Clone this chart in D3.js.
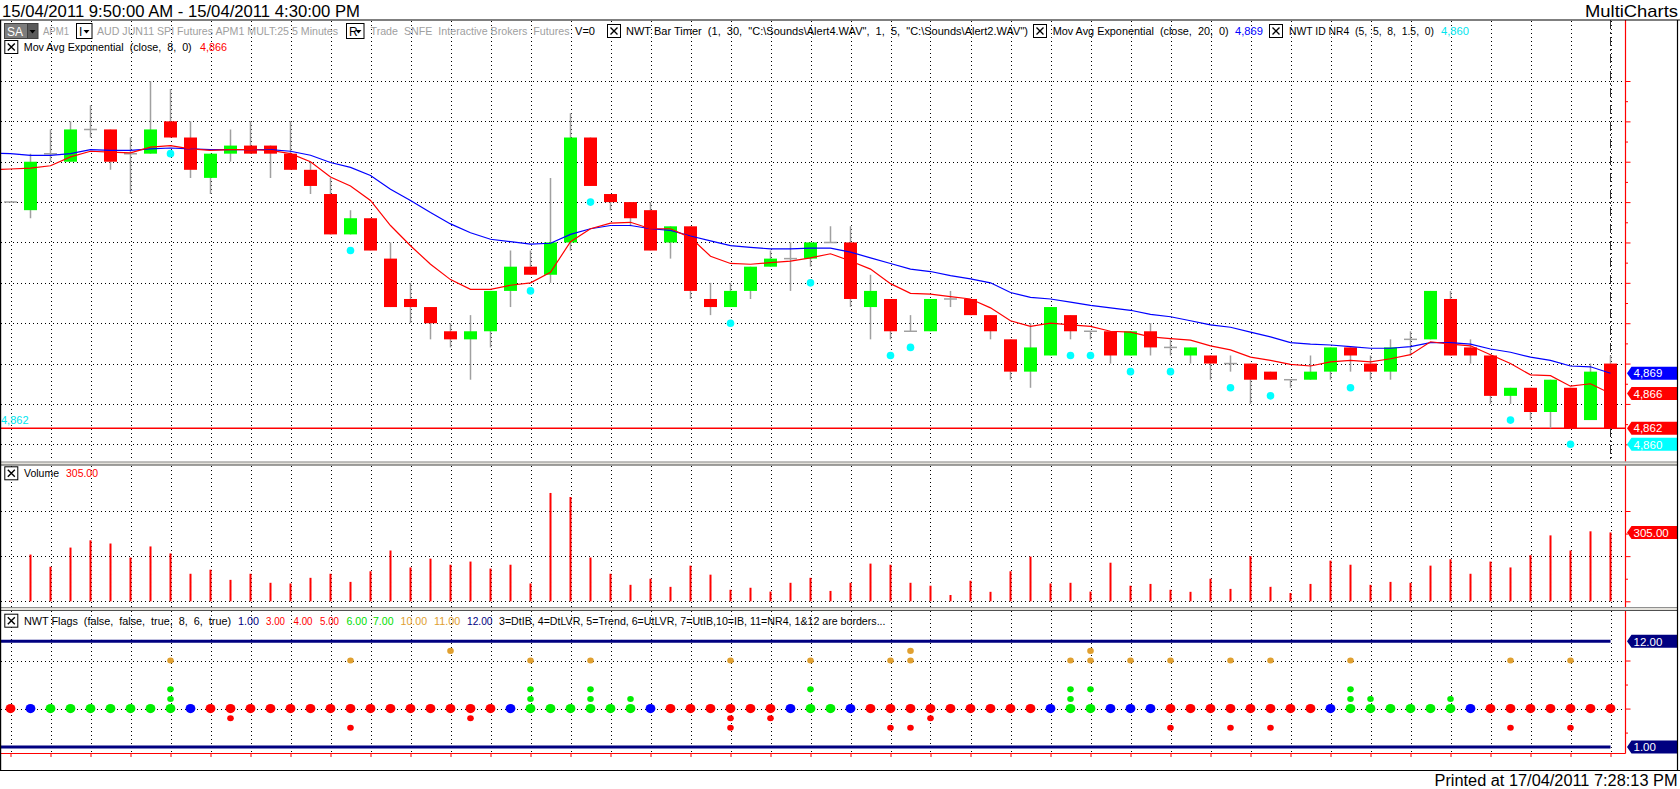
<!DOCTYPE html>
<html>
<head>
<meta charset="utf-8">
<script src="https://cdn.jsdelivr.net/npm/d3@7"></script>
<style>
  body { margin: 0; background: #fff; }
  svg text { font-family: "Liberation Sans", Arial, sans-serif; white-space: pre; }
</style>
</head>
<body>
<div id="chart"></div>
<script>
/* 5 minute bars, AUD JUN11 SPI, 15/04/2011 */
var opens  = [4890,4889,4896,4895,4899,4899,4896,4896,4900,4898,4893,4896,4897,4897,4896,4894,4891,4886,4888,4883,
              4878,4877,4874,4873,4874,4879,4882,4881,4885,4898,4891,4890,4889,4885,4887,4878,4877,4879,4882,4883,
              4883,4885,4885,4877,4878,4874,4874,4878,4878,4876,4873,4869,4871,4876,4874,4874,4871,4874,4872,4871,
              4871,4870,4870,4869,4868,4868,4869,4872,4870,4869,4873,4873,4878,4872,4871,4866,4867,4864,4867,4863,4870];
var highs  = [4890,4896,4899,4900,4902,4899,4898,4905,4904,4900,4896,4899,4900,4897,4900,4895,4893,4889,4888,4885,
              4880,4877,4875,4876,4879,4884,4884,4893,4901,4898,4891,4890,4890,4887,4887,4880,4880,4882,4884,4885,
              4885,4887,4887,4881,4878,4876,4878,4879,4878,4876,4873,4875,4877,4876,4874,4874,4874,4875,4873,4872,
              4871,4871,4870,4869,4868,4871,4872,4872,4871,4873,4874,4879,4879,4873,4871,4867,4867,4868,4867,4870,4871];
var lows   = [4890,4888,4895,4895,4898,4894,4891,4896,4898,4893,4891,4895,4896,4893,4894,4891,4886,4886,4884,4877,
              4875,4873,4872,4868,4872,4877,4881,4880,4884,4892,4889,4887,4884,4883,4878,4876,4877,4878,4882,4879,
              4882,4885,4877,4873,4873,4874,4874,4877,4876,4873,4868,4867,4871,4873,4873,4870,4871,4871,4871,4870,
              4868,4869,4865,4868,4867,4868,4868,4869,4868,4868,4871,4873,4871,4870,4865,4865,4863,4862,4862,4863,4862];
var closes = [4890,4895,4896,4899,4899,4895,4896,4899,4898,4894,4896,4897,4896,4896,4894,4892,4886,4888,4884,4877,
              4877,4875,4873,4874,4879,4882,4881,4885,4898,4892,4890,4888,4884,4887,4879,4877,4879,4882,4883,4883,
              4885,4885,4878,4879,4874,4874,4878,4878,4876,4874,4869,4872,4877,4874,4874,4871,4874,4872,4872,4872,
              4870,4870,4868,4868,4868,4869,4872,4871,4869,4872,4873,4879,4871,4871,4866,4867,4864,4868,4862,4869,4862];
var volumes = [3,207,153,238,270,256,194,243,212,122,140,95,122,82,79,104,122,86,133,225,
               150,189,162,176,145,162,79,480,462,194,122,73,100,64,158,118,51,60,43,82,
               104,46,82,167,162,82,69,28,91,42,133,198,79,82,43,171,69,77,51,42,
               100,55,200,64,37,77,180,162,73,86,82,158,186,122,176,150,204,292,225,310,305];

/* Mov Avg Exponential (close, 8) and (close, 20) */
var ema8Prev = 4894.0, ema20Prev = 4896.1;
var ema8  = [4894.1,4894.2,4894.5,4895.6,4896.3,4896.2,4896.1,4896.8,4897.0,4896.6,4896.4,4896.5,4896.5,4896.4,4896.0,4895.0,4893.1,4892.0,4890.2,4887.1,
             4884.6,4882.3,4880.4,4879.2,4879.2,4879.7,4880.0,4881.3,4885.1,4886.7,4887.4,4887.5,4886.7,4886.7,4885.6,4883.3,4882.4,4882.3,4882.5,4882.7,
             4883.1,4883.6,4882.7,4881.7,4879.9,4878.7,4878.6,4878.3,4878.0,4876.9,4875.3,4874.6,4875.0,4874.8,4874.6,4874.0,4873.9,4873.3,4873.1,4872.9,
             4872.2,4871.7,4870.8,4870.4,4869.9,4869.7,4870.2,4870.4,4870.2,4870.6,4871.1,4872.7,4872.4,4872.2,4871.1,4870.0,4868.6,4868.5,4867.2,4867.5,4866.3];
var ema20 = [4896.0,4895.8,4895.8,4896.0,4896.5,4896.4,4896.4,4896.6,4896.7,4896.6,4896.5,4896.5,4896.5,4896.5,4896.3,4895.8,4894.9,4894.3,4893.3,4891.6,
             4890.2,4888.7,4887.3,4886.2,4885.4,4885.1,4884.8,4884.9,4886.0,4886.7,4887.1,4887.1,4886.7,4886.5,4885.8,4885.2,4884.6,4884.4,4884.2,4884.2,
             4884.3,4884.3,4883.8,4883.1,4882.4,4881.7,4881.4,4880.9,4880.5,4880.0,4878.8,4878.2,4878.0,4877.6,4877.2,4876.9,4876.6,4876.1,4875.8,4875.3,
             4874.8,4874.5,4873.9,4873.3,4872.6,4872.4,4872.3,4872.1,4871.9,4871.9,4872.1,4872.6,4872.6,4872.4,4871.8,4871.4,4870.8,4870.4,4869.7,4869.6,4868.8];

/* NWT ID NR4 dots */
var nr4Bars = [8,17,26,29,36,40,44,45,53,54,56,58,61,63,67,75,78];
var nr4Vals = [4896,4884,4879,4890,4875,4880,4871,4872,4871,4871,4869,4869,4867,4866,4867,4863,4860];

/* NWT Flags: trend row (1 up, -1 down, 0 neutral) and the other flag rows */
var trend = [-1,0,1,1,1,1,1,1,1,0,-1,-1,-1,-1,-1,-1,-1,-1,-1,-1,
             -1,-1,-1,-1,-1,0,1,1,1,1,1,1,0,-1,-1,-1,-1,-1,-1,0,
             1,1,0,-1,-1,-1,-1,-1,-1,-1,-1,-1,0,1,1,0,0,0,-1,-1,
             -1,-1,-1,-1,-1,-1,0,1,1,1,1,1,1,0,-1,-1,-1,-1,-1,-1,-1];
var flagDtIB  = [17,36,44,45,58,61,63,75,78];
var flagDtLVR = [11,23,36,38,46];
var flagUtLVR = [8,26,29,31,53,67,68,72];
var flagUtIB  = [8,26,29,40,53,54,67];
var flagIB    = [8,17,26,29,36,40,44,45,53,54,56,58,61,63,67,75,78];
var flagNR4   = [22,45,54];
var flagBorders = [1, 12];

var priceGrid = [4860,4865,4870,4875,4880,4885,4890,4895,4900,4905];
var priceMinor = [4862.5,4867.5,4872.5,4877.5,4882.5,4887.5,4892.5,4897.5,4902.5];
var volGrid = [0, 200, 400];
var volMinor = [100, 300];
var flagGrid = [5, 10];
var flagMinor = [2.5, 7.5];

/* ---------- setup ---------- */
var W = 1680, H = 789;
var axisX = 1625.5, rightEdge = 1677.5;
var pTop = 20, pBot = 461, vTop = 466, vBot = 607, fTop = 611, fBot = 753.5, frameBot = 770.5;

var svg = d3.select("#chart").append("svg")
    .attr("width", W).attr("height", H)
    .style("display", "block");

var x  = d3.scaleLinear().domain([0, 80]).range([10.5, 1610.5]);
var yP = d3.scaleLinear().domain([4860, 4905]).range([444.3, 81]);
var yV = d3.scaleLinear().domain([0, 400]).range([601.3, 511]);
var yF = d3.scaleLinear().domain([1, 12]).range([747, 641.3]);

var idx = d3.range(closes.length);
var gridBars = idx.filter(function (i) { return i % 2 === 0; });

var defs = svg.append("defs");
defs.append("clipPath").attr("id", "clipP")
  .append("rect").attr("x", 1).attr("y", pTop).attr("width", axisX - 1).attr("height", pBot - pTop);

function dotted(g, x1, y1, x2, y2) {
  g.append("line")
    .attr("x1", x1).attr("y1", y1).attr("x2", x2).attr("y2", y2)
    .attr("stroke", "#000").attr("stroke-width", 1)
    .attr("stroke-dasharray", "1,3")
    .attr("shape-rendering", "crispEdges");
}

/* ---------- grid ---------- */
var grid = svg.append("g").attr("class", "grid");
gridBars.forEach(function (i) {
  var gx = Math.round(x(i)) + 0.5;
  dotted(grid, gx, pTop + 1, gx, pBot);
  dotted(grid, gx, vTop, gx, vBot);
  dotted(grid, gx, fTop, gx, fBot);
});
priceGrid.forEach(function (p) { dotted(grid, 1, Math.round(yP(p)) + 0.5, axisX, Math.round(yP(p)) + 0.5); });
volGrid.forEach(function (v) { dotted(grid, 1, Math.round(yV(v)) + 0.5, axisX, Math.round(yV(v)) + 0.5); });
flagGrid.forEach(function (f) { dotted(grid, 1, Math.round(yF(f)) + 0.5, axisX, Math.round(yF(f)) + 0.5); });

/* ---------- price pane ---------- */
var price = svg.append("g").attr("clip-path", "url(#clipP)");

// last price line
price.append("line")
  .attr("x1", 0).attr("x2", axisX)
  .attr("y1", yP(closes[closes.length - 1])).attr("y2", yP(closes[closes.length - 1]))
  .attr("stroke", "#ff0000").attr("stroke-width", 1.5);

price.append("text").attr("x", 1).attr("y", yP(4862) - 4)
  .attr("font-size", 11).attr("fill", "#00e5ee").text("4,862");

// last bar marker
price.append("line")
  .attr("x1", x(80)).attr("x2", x(80)).attr("y1", pTop).attr("y2", pBot)
  .attr("stroke", "#333").attr("stroke-width", 1)
  .attr("stroke-dasharray", "9,3,2,3");

// wicks
price.selectAll("line.wick").data(idx).enter().append("line")
  .attr("class", "wick")
  .attr("x1", function (i) { return x(i); }).attr("x2", function (i) { return x(i); })
  .attr("y1", function (i) { return yP(highs[i]); })
  .attr("y2", function (i) { return yP(lows[i]); })
  .attr("stroke", "#a0a0a0").attr("stroke-width", 1.5);

// doji
price.selectAll("line.doji").data(idx.filter(function (i) { return opens[i] === closes[i]; })).enter().append("line")
  .attr("class", "doji")
  .attr("x1", function (i) { return x(i) - 6.5; }).attr("x2", function (i) { return x(i) + 6.5; })
  .attr("y1", function (i) { return yP(opens[i]); }).attr("y2", function (i) { return yP(opens[i]); })
  .attr("stroke", "#a0a0a0").attr("stroke-width", 1.5);

// bodies
price.selectAll("rect.body").data(idx.filter(function (i) { return opens[i] !== closes[i]; })).enter().append("rect")
  .attr("class", "body")
  .attr("x", function (i) { return x(i) - 6.5; })
  .attr("width", 13)
  .attr("y", function (i) { return yP(Math.max(opens[i], closes[i])); })
  .attr("height", function (i) { return Math.abs(yP(opens[i]) - yP(closes[i])); })
  .attr("fill", function (i) { return closes[i] > opens[i] ? "#00ff00" : "#ff0000"; });

// moving averages
var maLine = d3.line().x(function (d) { return x(d.i); }).y(function (d) { return yP(d.v); });
function maData(prev, arr) {
  return [{ i: -1, v: prev }].concat(arr.map(function (v, i) { return { i: i, v: v }; }));
}
price.append("path").datum(maData(ema20Prev, ema20)).attr("d", maLine)
  .attr("fill", "none").attr("stroke", "#0000ff").attr("stroke-width", 1.2);
price.append("path").datum(maData(ema8Prev, ema8)).attr("d", maLine)
  .attr("fill", "none").attr("stroke", "#ff0000").attr("stroke-width", 1.2);

// NR4 dots
price.selectAll("circle.nr4").data(nr4Bars).enter().append("circle")
  .attr("cx", function (b) { return x(b); })
  .attr("cy", function (b, k) { return yP(nr4Vals[k]); })
  .attr("r", 3.8).attr("fill", "#00ffff");

/* ---------- volume pane ---------- */
svg.append("g").selectAll("line.vol").data(idx).enter().append("line")
  .attr("x1", function (i) { return x(i); }).attr("x2", function (i) { return x(i); })
  .attr("y1", yV(0)).attr("y2", function (i) { return yV(volumes[i]); })
  .attr("stroke", "#ff0000").attr("stroke-width", 2);

/* ---------- flags pane ---------- */
var flags = svg.append("g");
flagBorders.forEach(function (f) {
  flags.append("line").attr("x1", 0).attr("x2", x(80))
    .attr("y1", yF(f)).attr("y2", yF(f))
    .attr("stroke", "#000080").attr("stroke-width", 3);
});
function flagDots(bars, val, color, r) {
  flags.selectAll(null).data(bars).enter().append("ellipse")
    .attr("cx", function (b) { return x(b); })
    .attr("cy", yF(val))
    .attr("rx", r).attr("ry", r * 0.92)
    .attr("fill", color);
}
flags.selectAll(null).data(idx).enter().append("ellipse")
  .attr("cx", function (i) { return x(i); })
  .attr("cy", yF(5))
  .attr("rx", 4.9).attr("ry", 4.6)
  .attr("fill", function (i) { return trend[i] > 0 ? "#00ee00" : (trend[i] < 0 ? "#ff0000" : "#0000ff"); });
flagDots(flagDtIB, 3, "#ff0000", 3.3);
flagDots(flagDtLVR, 4, "#ff0000", 3.3);
flagDots(flagUtLVR, 6, "#00ee00", 3.3);
flagDots(flagUtIB, 7, "#00ee00", 3.3);
flagDots(flagIB, 10, "#e0a030", 3.3);
flagDots(flagNR4, 11, "#e0a030", 3.3);

/* ---------- axes (ticks only, red) ---------- */
function rightTicks(scale, major, minor) {
  var g = svg.append("g").attr("transform", "translate(" + axisX + ",0)");
  g.call(d3.axisRight(scale).tickValues(major).tickSize(5).tickFormat(""));
  g.select(".domain").remove();
  g.selectAll(".tick line").attr("stroke", "#ff0000");
  var g2 = svg.append("g").attr("transform", "translate(" + axisX + ",0)");
  g2.call(d3.axisRight(scale).tickValues(minor).tickSize(2.5).tickFormat(""));
  g2.select(".domain").remove();
  g2.selectAll(".tick line").attr("stroke", "#ff0000");
}
rightTicks(yP, priceGrid, priceMinor);
rightTicks(yV, volGrid, volMinor);
rightTicks(yF, flagGrid, flagMinor);

var tAxis = svg.append("g").attr("transform", "translate(0," + fBot + ")");
tAxis.call(d3.axisBottom(x).tickValues(gridBars).tickSize(3.5).tickFormat(""));
tAxis.select(".domain").remove();
tAxis.selectAll(".tick line").attr("stroke", "#ff0000");
svg.append("line").attr("x1", 0).attr("x2", axisX).attr("y1", fBot).attr("y2", fBot)
  .attr("stroke", "#ff0000").attr("stroke-width", 1);
svg.append("line").attr("x1", axisX).attr("x2", axisX).attr("y1", pTop).attr("y2", fBot)
  .attr("stroke", "#ff0000").attr("stroke-width", 1.2);

/* ---------- value flags on the right ---------- */
function valueFlag(yc, txt, fill) {
  var g = svg.append("g");
  g.append("path")
    .attr("d", "M" + (axisX + 1.5) + "," + yc + "L" + (axisX + 6) + "," + (yc - 6.5) +
               "L" + rightEdge + "," + (yc - 6.5) + "L" + rightEdge + "," + (yc + 6.5) +
               "L" + (axisX + 6) + "," + (yc + 6.5) + "Z")
    .attr("fill", fill);
  g.append("text").attr("x", axisX + 8).attr("y", yc + 4.2)
    .attr("font-size", 11.5).attr("fill", "#fff").text(txt);
}
var fmtP = d3.format(",.0f"), fmtV = d3.format(".2f");
valueFlag(yP(ema20[80]), fmtP(ema20[80]), "#0000ff");
valueFlag(yP(ema8[80]), fmtP(ema8[80]), "#ff0000");
valueFlag(yP(closes[80]), fmtP(closes[80]), "#ff0000");
valueFlag(yP(nr4Vals[nr4Vals.length - 1]), fmtP(nr4Vals[nr4Vals.length - 1]), "#00ffff");
valueFlag(yV(volumes[80]), fmtV(volumes[80]), "#ff0000");
valueFlag(yF(12), fmtV(12), "#000080");
valueFlag(yF(1), fmtV(1), "#000080");

/* ---------- separators and frame ---------- */
function separator(y0) {
  svg.append("rect").attr("x", 0).attr("y", y0).attr("width", rightEdge).attr("height", 4)
    .attr("fill", "#e4e2dc");
  svg.append("line").attr("x1", 0).attr("x2", rightEdge).attr("y1", y0 + 0.5).attr("y2", y0 + 0.5)
    .attr("stroke", "#909090");
  svg.append("line").attr("x1", 0).attr("x2", rightEdge).attr("y1", y0 + 3.5).attr("y2", y0 + 3.5)
    .attr("stroke", "#505050");
}
separator(461.5);
separator(607);

var frame = svg.append("g").attr("stroke", "#000").attr("stroke-width", 1.2).attr("fill", "none");
frame.append("line").attr("x1", 0).attr("x2", 1680).attr("y1", pTop).attr("y2", pTop);
frame.append("line").attr("x1", 0.6).attr("x2", 0.6).attr("y1", pTop).attr("y2", frameBot);
frame.append("line").attr("x1", rightEdge).attr("x2", rightEdge).attr("y1", pTop).attr("y2", frameBot);
frame.append("line").attr("x1", 0).attr("x2", 1680).attr("y1", frameBot).attr("y2", frameBot);

/* ---------- texts ---------- */
function txt(x0, yb, s, color, size, len) {
  var t = svg.append("text").attr("x", x0).attr("y", yb)
    .attr("font-size", size).attr("fill", color).text(s);
  if (len) t.attr("textLength", len).attr("lengthAdjust", "spacingAndGlyphs");
  return t;
}
function xbox(x0, yc) {
  svg.append("rect").attr("x", x0 + 0.5).attr("y", yc - 6.5).attr("width", 13).attr("height", 13)
    .attr("fill", "#fff").attr("stroke", "#000").attr("stroke-width", 1);
  svg.append("path").attr("d", "M" + (x0 + 3.5) + "," + (yc - 3.5) + "L" + (x0 + 10.5) + "," + (yc + 3.5) +
                               "M" + (x0 + 10.5) + "," + (yc - 3.5) + "L" + (x0 + 3.5) + "," + (yc + 3.5))
    .attr("stroke", "#000").attr("stroke-width", 1.4);
}
function dropBox(x0, w, yc, label) {
  svg.append("rect").attr("x", x0 + 0.5).attr("y", yc - 7.5).attr("width", w).attr("height", 15)
    .attr("fill", "#fff").attr("stroke", "#000").attr("stroke-width", 1);
  txt(x0 + 3, yc + 4.5, label, "#000", 12);
  var tx = x0 + w - 5;
  svg.append("path").attr("d", "M" + (tx - 3) + "," + (yc - 1) + "L" + (tx + 3) + "," + (yc - 1) + "L" + tx + "," + (yc + 2.5) + "Z")
    .attr("fill", "#000");
}

txt(2, 17, "15/04/2011 9:50:00 AM - 15/04/2011 4:30:00 PM", "#000", 17, 358);
txt(1585, 17, "MultiCharts", "#000", 17, 93);

// header row 1
svg.append("rect").attr("x", 4.5).attr("y", 23.5).attr("width", 23).attr("height", 15)
  .attr("fill", "#7c7c7c").attr("stroke", "#404040");
txt(7, 35.5, "SA", "#fff", 12, 16);
svg.append("rect").attr("x", 27.5).attr("y", 23.5).attr("width", 10.5).attr("height", 15)
  .attr("fill", "#5a5a5a").attr("stroke", "#404040");
svg.append("path").attr("d", "M29.5,30L35.5,30L32.5,33.5Z").attr("fill", "#000");
txt(43, 35, "APM1", "#a0a0a0", 11, 26);
dropBox(76, 15.5, 31, "I");
txt(97, 35, "AUD JUN11 SPI Futures APM1 MULT:25 5 Minutes", "#a0a0a0", 11, 241);
dropBox(346, 17.5, 31, "R");
txt(370.5, 35, "Trade  SNFE  Interactive Brokers  Futures", "#a0a0a0", 11, 199);
txt(575, 35, "V=0", "#000", 11, 20);
xbox(607, 31);
txt(626, 35, "NWT Bar Timer  (1,  30,  \"C:\\Sounds\\Alert4.WAV\",  1,  5,  \"C:\\Sounds\\Alert2.WAV\")", "#000", 11, 402);
xbox(1033, 31);
txt(1052.7, 35, "Mov Avg Exponential  (close,  20,  0)", "#000", 11, 176);
txt(1235, 35, fmtP(ema20[80]), "#0000ff", 11, 28);
xbox(1269, 31);
txt(1289, 35, "NWT ID NR4  (5,  5,  8,  1.5,  0)", "#000", 11, 145);
txt(1441, 35, fmtP(nr4Vals[nr4Vals.length - 1]), "#00e5ee", 11, 28);

// header row 2
xbox(4.3, 47);
txt(23.7, 51, "Mov Avg Exponential  (close,  8,  0)", "#000", 11, 168);
txt(200, 51, fmtP(ema8[80]), "#ff0000", 11, 27);

// volume header
xbox(4.3, 473.3);
txt(24, 477.3, "Volume", "#000", 11, 35);
txt(66, 477.3, fmtV(volumes[80]), "#ff0000", 11, 32);

// flags header
xbox(4.3, 620.7);
txt(24, 624.7, "NWT Flags  (false,  false,  true,  8,  6,  true)", "#000", 11, 207);
var flagLegend = [
  [238, "1.00", "#000080", 21], [266, "3.00", "#ff0000", 19], [293.5, "4.00", "#ff0000", 19],
  [320, "5.00", "#ff0000", 19], [346.5, "6.00", "#00dd00", 20.5], [373, "7.00", "#00dd00", 20.5],
  [400.6, "10.00", "#e0a030", 26.5], [434, "11.00", "#e0a030", 26.3], [467, "12.00", "#000080", 25.5]
];
flagLegend.forEach(function (d) { txt(d[0], 624.7, d[1], d[2], 11, d[3]); });
txt(499, 624.7, "3=DtIB, 4=DtLVR, 5=Trend, 6=UtLVR, 7=UtIB,10=IB, 11=NR4, 1&12 are borders...", "#000", 11, 386.5);

txt(1434.5, 786, "Printed at 17/04/2011 7:28:13 PM", "#000", 16, 243);
</script>
</body>
</html>
